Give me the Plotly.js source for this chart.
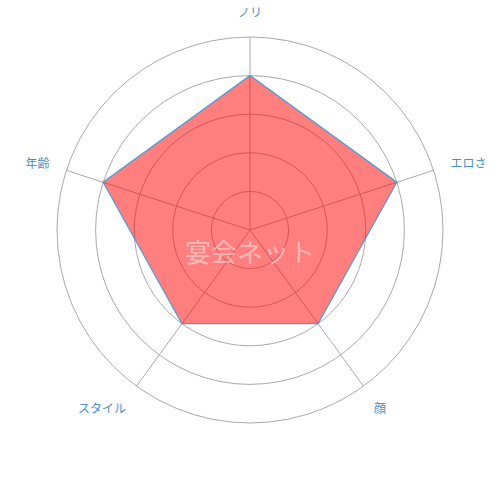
<!DOCTYPE html>
<html>
<head>
<meta charset="utf-8">
<script src="https://cdn.plot.ly/plotly-3.0.1.min.js"></script>
<style>
html, body { margin: 0; padding: 0; background: #fff; }
#chart { width: 500px; height: 500px; }
</style>
</head>
<body>
<div id="chart"></div>
<script>
// Radar chart categories and scores
var categories = ['ノリ', 'エロさ', '顔', 'スタイル', '年齢'];
var scores = [4, 4, 3, 3, 4];
var maxScore = 5;

var trace = {
    type: 'scatterpolar',
    r: scores.concat([scores[0]]),
    theta: categories.concat([categories[0]]),
    fill: 'toself',
    fillcolor: 'rgba(255, 0, 0, 0.5)',
    line: {color: '#4a9ad8', width: 1.2},
    mode: 'lines',
    hoverinfo: 'none'
};

var layout = {
    width: 500,
    height: 500,
    margin: {l: 57, r: 57, t: 37, b: 77},
    paper_bgcolor: '#fff',
    showlegend: false,
    font: {family: 'Noto Sans CJK JP, sans-serif', size: 12, color: '#4a8fc6'},
    polar: {
        bgcolor: 'rgba(0,0,0,0)',
        radialaxis: {
            range: [0, maxScore],
            tickvals: [1, 2, 3, 4, 5],
            showticklabels: false,
            ticks: '',
            showline: false,
            gridcolor: '#aaaaaa',
            gridwidth: 1
        },
        angularaxis: {
            direction: 'clockwise',
            rotation: 90,
            ticks: 'outside',
            ticklen: 15,
            tickcolor: 'rgba(0,0,0,0)',
            showline: true,
            linecolor: '#aaaaaa',
            gridcolor: '#aaaaaa',
            tickfont: {size: 12, color: '#4a8fc6'}
        }
    },
    annotations: [{
        text: '宴会ネット',
        x: 0.5, y: 0.448,
        xref: 'paper', yref: 'paper',
        xanchor: 'center', yanchor: 'middle',
        showarrow: false,
        font: {size: 26, color: 'rgba(255,255,255,0.45)', family: 'Noto Sans CJK JP, sans-serif'}
    }]
};

Plotly.newPlot('chart', [trace], layout, {displayModeBar: false, staticPlot: true});
</script>
</body>
</html>
